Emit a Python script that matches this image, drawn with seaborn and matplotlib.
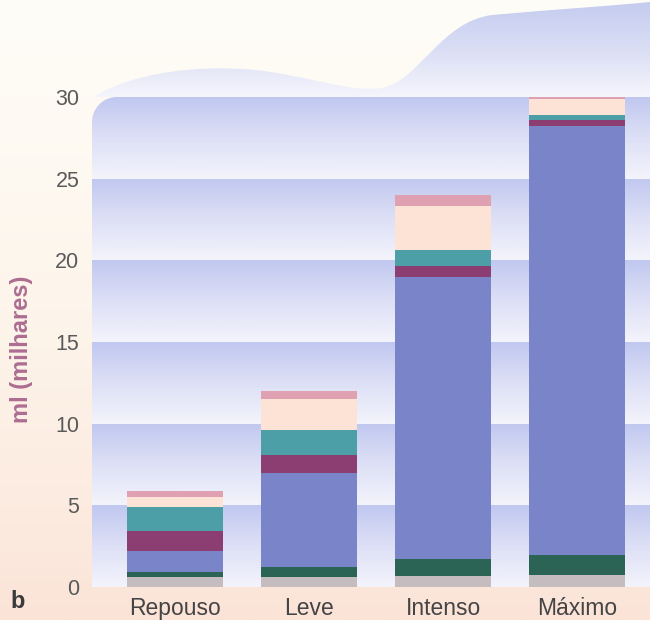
import numpy as np
import pandas as pd
import matplotlib
matplotlib.use("Agg")
import matplotlib.pyplot as plt
import seaborn as sns
from matplotlib.path import Path
from matplotlib.patches import PathPatch
from matplotlib.colors import LinearSegmentedColormap

# ---- data (ml, thousands) ----
categories = ["Repouso", "Leve", "Intenso", "Máximo"]
seg_grey = [0.6, 0.6, 0.7, 0.75]
seg_green = [0.3, 0.6, 1.0, 1.2]
seg_blue = [1.3, 5.8, 17.3, 26.3]
seg_plum = [1.2, 1.1, 0.65, 0.35]
seg_teal = [1.5, 1.5, 1.0, 0.3]
seg_peach = [0.6, 1.9, 2.65, 0.95]
seg_pink = [0.4, 0.5, 0.7, 0.15]
y_ticks = [0, 5, 10, 15, 20, 25, 30]

segments = [seg_grey, seg_green, seg_blue, seg_plum, seg_teal, seg_peach, seg_pink]
seg_colors = ["#c4bcbe", "#2b6454", "#7a85c9", "#8c3e72", "#4c9fa7", "#fde2d6", "#dfa1b1"]

sns.set_style("white")
plt.rcParams["font.family"] = ["Liberation Sans", "DejaVu Sans"]

W, H = 650, 620
fig = plt.figure(figsize=(W / 100, H / 100), dpi=100)

# page background: cream fading to peach toward the bottom
bg = fig.add_axes([0, 0, 1, 1], zorder=-10)
page_cmap = LinearSegmentedColormap.from_list(
    "page", [(0, "#fffdf8"), (0.5, "#fdf5eb"), (0.88, "#fce9de"), (1, "#fbe3d7")])
bg.imshow(np.linspace(0, 1, 256).reshape(-1, 1), cmap=page_cmap, aspect="auto",
          extent=[0, 1, 0, 1], origin="upper")
bg.set_axis_off()

# plotting area
ax_left, ax_right, ax_bottom_px = 92, 650, 587
px_per_unit = (587 - 97) / 30.0
ax = fig.add_axes([ax_left / W, (H - ax_bottom_px) / H, (ax_right - ax_left) / W, ax_bottom_px / H])
ax.patch.set_alpha(0)

xmin, xmax = -83 / 134, 3 + 73 / 134
ymin, ymax = 0, ax_bottom_px / px_per_unit

# striped gradient panel with a rounded upper-left corner
band_cmap = LinearSegmentedColormap.from_list("band", ["#c1c8f0", "#dde0f6", "#f4f4fc"])
rx, ry = 25 / 134, 25 / px_per_unit
theta = np.linspace(np.pi / 2, np.pi, 20)
arc = np.column_stack([xmin + rx + rx * np.cos(theta), 30 - ry + ry * np.sin(theta)])
verts = np.vstack([[xmin, 0], [xmax, 0], [xmax, 30], arc, [xmin, 0]])
codes = [Path.MOVETO] + [Path.LINETO] * (len(verts) - 2) + [Path.CLOSEPOLY]
panel_clip = PathPatch(Path(verts, codes), transform=ax.transData, facecolor="none", edgecolor="none")
ax.add_patch(panel_clip)
grad = np.linspace(0, 1, 256).reshape(-1, 1)
for lo in range(0, 30, 5):
    im = ax.imshow(grad, cmap=band_cmap, aspect="auto", origin="upper",
                   extent=[xmin, xmax, lo, lo + 5], zorder=0)
    im.set_clip_path(panel_clip)

# soft wave above the panel (Bezier outline, given in pixel positions)
wave_pts = [(94, 97),
            (130, 74), (195, 64), (255, 70),
            (310, 76), (350, 93), (382, 88),
            (420, 80), (440, 22), (492, 15),
            (560, 9), (610, 6), (650, 2),
            (650, 97), (94, 97)]
wave_codes = ([Path.MOVETO] + [Path.CURVE4] * 12 + [Path.LINETO, Path.CLOSEPOLY])
wave = np.array([[(px - ax_left) / (ax_right - ax_left), (ax_bottom_px - py) / ax_bottom_px]
                 for px, py in wave_pts])
wave_patch = PathPatch(Path(wave, wave_codes), transform=ax.transAxes, facecolor="none", edgecolor="none")
ax.add_patch(wave_patch)
wave_cmap = LinearSegmentedColormap.from_list("wave", ["#c3cbef", "#dadef5", "#f5f5fc"])
top_frac = (ax_bottom_px - 97) / ax_bottom_px
wim = ax.imshow(grad, cmap=wave_cmap, aspect="auto", origin="upper",
                extent=[0, 1, top_frac, 1], transform=ax.transAxes, zorder=0)
wim.set_clip_path(wave_patch)

# stacked bars: draw cumulative totals from the top layer down
df = pd.DataFrame({"categoria": categories})
cum = np.zeros(len(categories))
cum_cols = []
for i, seg in enumerate(segments):
    cum = cum + np.array(seg)
    df[f"c{i}"] = cum
    cum_cols.append(f"c{i}")
for col, color in reversed(list(zip(cum_cols, seg_colors))):
    sns.barplot(data=df, x="categoria", y=col, order=categories, color=color,
                saturation=1, width=0.72, errorbar=None, linewidth=0, ax=ax, zorder=2)

ax.set_xlim(xmin, xmax)
ax.set_ylim(ymin, ymax)
ax.set_yticks(y_ticks)
ax.set_yticklabels([str(t) for t in y_ticks])
ax.set_xlabel("")
ax.set_ylabel("")
ax.tick_params(axis="y", length=0, pad=9, labelsize=15.5, labelcolor="#5a5a5a")
ax.tick_params(axis="x", length=0, pad=7, labelsize=16.5, labelcolor="#444444")
for s in ax.spines.values():
    s.set_visible(False)

fig.text(22 / W, 1 - 349 / H, "ml (milhares)", rotation=90, ha="center", va="center",
         fontsize=17, fontweight="bold", color="#ad6d92")
fig.text(10 / W, 1 - 602 / H, "b", ha="left", va="center", fontsize=17,
         fontweight="bold", color="#3a3a3a")

fig.savefig("out.png", dpi=100)
